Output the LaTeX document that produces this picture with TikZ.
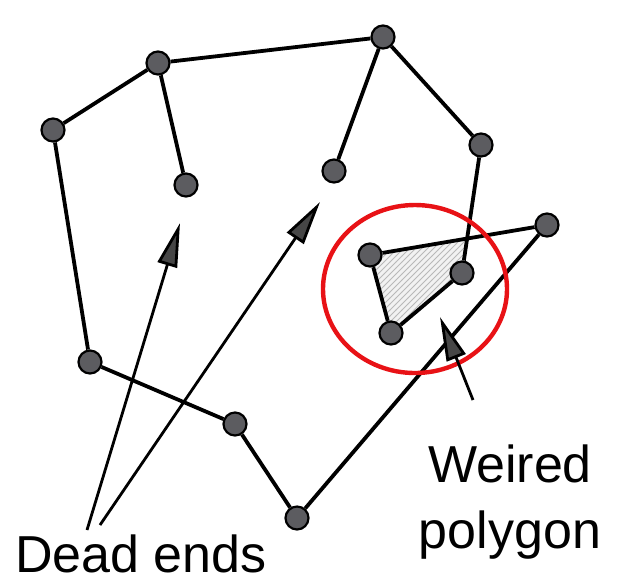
\documentclass[tikz,border=0pt]{standalone}
\usepackage{fontspec}
\setmainfont{Liberation Sans}
\usetikzlibrary{arrows.meta,patterns,backgrounds}
\definecolor{vtxgrey}{RGB}{92,92,96}
\definecolor{ringred}{RGB}{232,18,22}
\tikzset{
  vtx/.style={circle,draw=black,fill=vtxgrey,line width=1.1pt,minimum size=11.5pt,inner sep=0pt},
  edge/.style={draw=black,line width=1.9pt},
  pointer/.style={-{Triangle[length=22pt,width=10pt,fill=gray!55!black]},draw=black,line width=1.4pt},
  lbl/.style={font=\fontsize{26}{33}\selectfont,align=center,inner sep=0pt},
}

\begin{document}
\begin{tikzpicture}[x=0.5pt,y=-0.5pt]
  \useasboundingbox (0,0) rectangle (625,586);
  % vertices of the sketch
  \foreach \n/\x/\y in {a/158/63,b/383/37,c/53/130,d/186/185,e/334/171,f/481/145,
    g/547/225,h/370/255,i/462/273,j/391/333,k/90/362,l/235/424,m/297/518}{
    \node[vtx] (\n) at (\x,\y) {};}
  % outer walk and dead ends
  \foreach \p/\q in {c/a,a/b,a/d,b/e,b/f,f/i,h/g,h/j,j/i,g/m,m/l,l/k,k/c}{
    \draw[edge] (\p) -- (\q);}
  % the odd little polygon
  \coordinate (cut) at (intersection of f--i and h--g);
  \begin{scope}[on background layer]
    \fill[gray!10] (h.center) -- (cut) -- (i.center) -- (j.center) -- cycle;
    \fill[pattern=north east lines,pattern color=gray!55] (h.center) -- (cut) -- (i.center) -- (j.center) -- cycle;
  \end{scope}
  \draw[ringred,line width=2.2pt] (415,289) ellipse [x radius=92,y radius=84];
  % labels and pointers
  \node[lbl] (dead) at (141,554) {Dead ends};
  \node[lbl] (weird) at (510,502) {Weired\\polygon};
  \coordinate (t1) at (87,530);
  \coordinate (h1) at (180,223);
  \coordinate (t2) at (100,525);
  \coordinate (h2) at (320,202);
  \coordinate (t3) at (473,400);
  \coordinate (h3) at (440,317);
  \draw[pointer] (t1) -- (h1);
  \draw[pointer] (t2) -- (h2);
  \draw[pointer] (t3) -- (h3);
\end{tikzpicture}
\end{document}
